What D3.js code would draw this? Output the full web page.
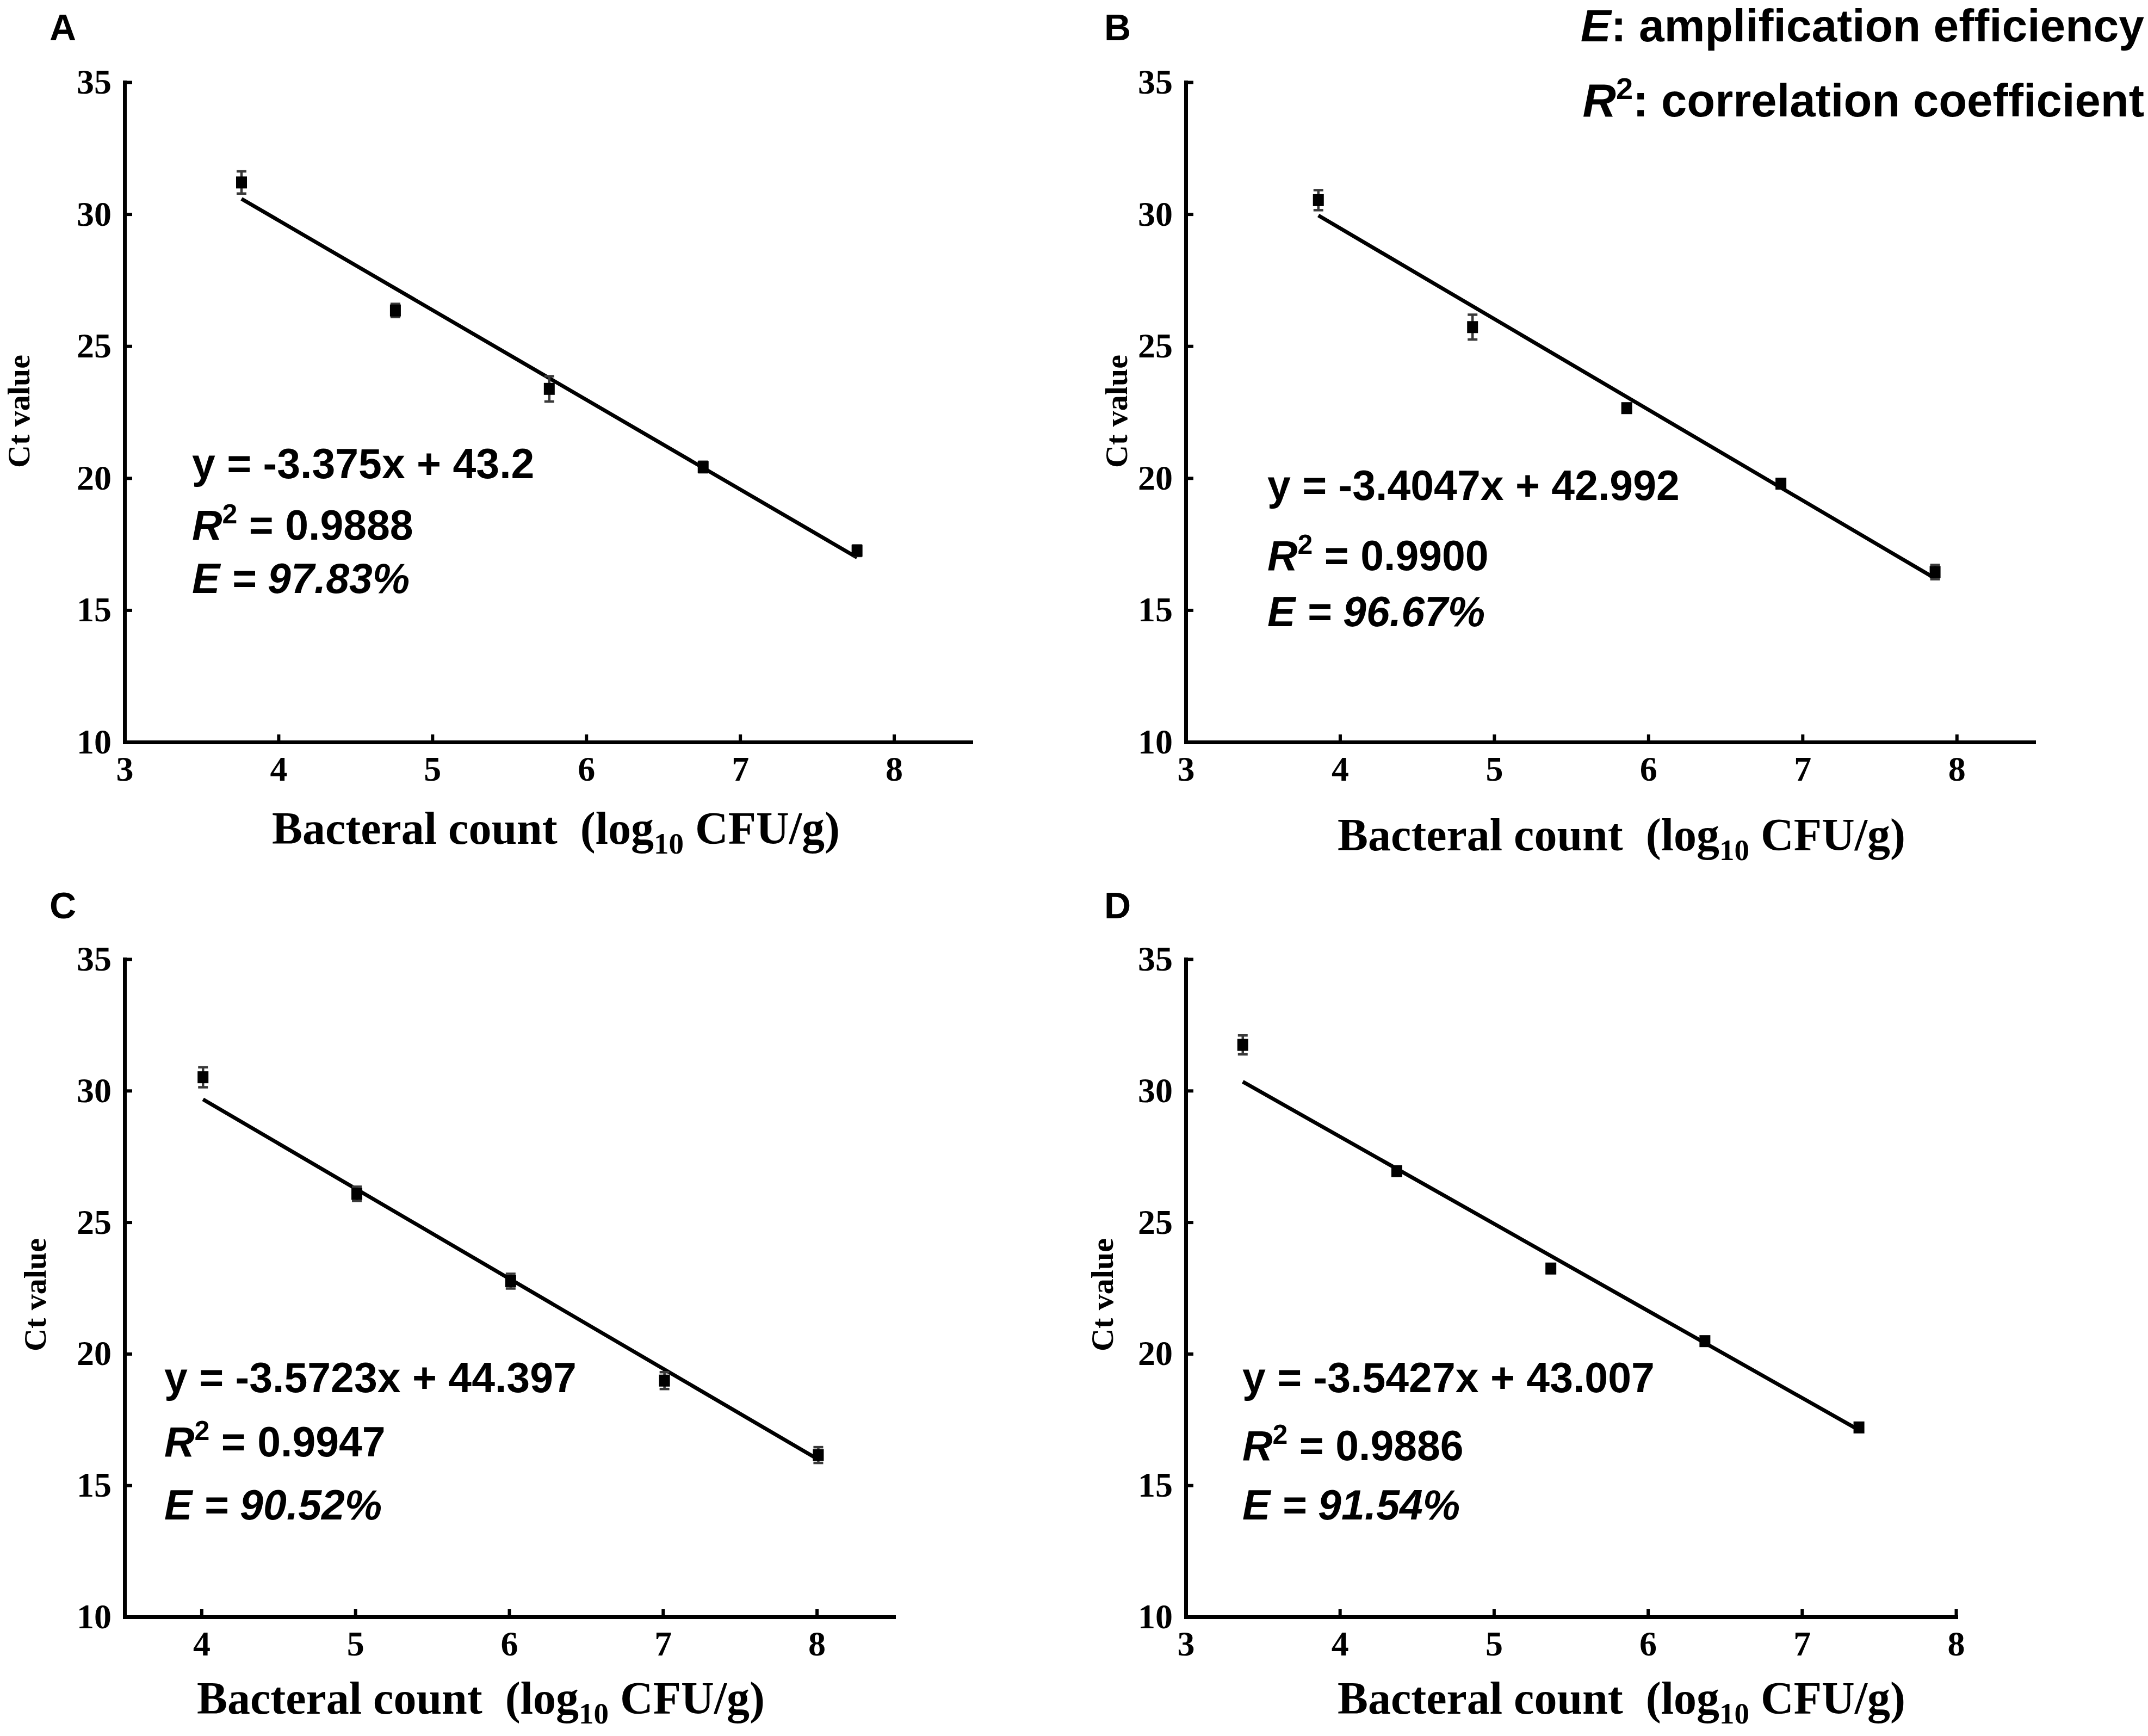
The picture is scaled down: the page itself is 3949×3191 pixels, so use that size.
<!DOCTYPE html>
<html>
<head>
<meta charset="utf-8">
<script src="https://cdn.jsdelivr.net/npm/d3@7"></script>
<style>
  body { margin: 0; background: #fff; }
  svg { display: block; }
  text { white-space: pre; }
</style>
</head>
<body>
<svg id="chart" width="3949" height="3191"></svg>
<script>
// values
var panelLetters = ["A", "B", "C", "D"];

var countA = [3.76, 4.76, 5.76, 6.76, 7.76];
var ctA    = [31.2, 26.35, 23.38, 20.42, 17.25];
var sdA    = [0.42, 0.25, 0.48, 0.2, 0.2];
var fitA   = [30.58, 16.99];

var countB = [3.86, 4.86, 5.86, 6.86, 7.86];
var ctB    = [30.53, 25.72, 22.65, 19.79, 16.44];
var sdB    = [0.38, 0.47, 0.12, 0.1, 0.27];
var fitB   = [29.95, 16.2];

var countC = [4.01, 5.01, 6.01, 7.01, 8.01];
var ctC    = [30.51, 26.08, 22.76, 18.98, 16.15];
var sdC    = [0.38, 0.27, 0.28, 0.32, 0.3];
var fitC   = [29.67, 15.98];

var countD = [3.37, 4.37, 5.37, 6.37, 7.37];
var ctD    = [31.74, 26.94, 23.24, 20.48, 17.2];
var sdD    = [0.36, 0.1, 0.17, 0.1, 0.15];
var fitD   = [30.34, 17.1];

var equations = ["y = -3.375x + 43.2", "y = -3.4047x + 42.992", "y = -3.5723x + 44.397", "y = -3.5427x + 43.007"];
var r2Values  = ["0.9888", "0.9900", "0.9947", "0.9886"];
var effValues = ["97.83%", "96.67%", "90.52%", "91.54%"];

var xTicksABD = [3, 4, 5, 6, 7, 8];
var xTicksC   = [4, 5, 6, 7, 8];
var yTicks    = [10, 15, 20, 25, 30, 35];
var yDomain   = [10, 35];

var counts = [countA, countB, countC, countD];
var cts    = [ctA, ctB, ctC, ctD];
var sds    = [sdA, sdB, sdC, sdD];
var fits   = [fitA, fitB, fitC, fitD];

// where each panel sits on the page
var layout = [
  { left: 229,  right: 1785, top: 151,  bottom: 1364, xDom: [3, 8.5],   ticks: xTicksABD,
    letter: [91, 74],     yTitle: [54, 756],    xTitle: [1022, 1551], eq: [353, 879, 992, 1090] },
  { left: 2180, right: 3739, top: 151,  bottom: 1364, xDom: [3, 8.5],   ticks: xTicksABD,
    letter: [2030, 74],   yTitle: [2072, 756],  xTitle: [2981, 1563], eq: [2330, 919, 1048, 1151] },
  { left: 229,  right: 1643, top: 1763, bottom: 2972, xDom: [3.5, 8.5], ticks: xTicksC,
    letter: [91, 1688],   yTitle: [84, 2380],   xTitle: [884, 3150],  eq: [302, 2559, 2677, 2793] },
  { left: 2180, right: 3596, top: 1763, bottom: 2972, xDom: [3, 8],     ticks: xTicksABD,
    letter: [2030, 1688], yTitle: [2046, 2380], xTitle: [2981, 3150], eq: [2284, 2559, 2684, 2793] }
];

var svg = d3.select("#chart");
var serif = "'Liberation Serif', 'Times New Roman', serif";
var sans = "'Liberation Sans', Arial, sans-serif";

layout.forEach(function(p, i) {
  var x = d3.scaleLinear().domain(p.xDom).range([p.left, p.right]);
  var y = d3.scaleLinear().domain(yDomain).range([p.bottom, p.top]);
  var g = svg.append("g");

  // axes, ticks pointing inward
  var xAxis = g.append("g")
    .attr("transform", "translate(0," + p.bottom + ")")
    .call(d3.axisBottom(x).tickValues(p.ticks).tickFormat(d3.format("d"))
      .tickSizeInner(-14).tickSizeOuter(0).tickPadding(26));
  var yAxis = g.append("g")
    .attr("transform", "translate(" + p.left + ",0)")
    .call(d3.axisLeft(y).tickValues(yTicks).tickFormat(d3.format("d"))
      .tickSizeInner(-14).tickSizeOuter(0).tickPadding(24));

  [xAxis, yAxis].forEach(function(a) {
    a.select(".domain").attr("stroke", "#000").attr("stroke-width", 7).attr("stroke-linecap", "square");
    a.selectAll(".tick line").attr("stroke", "#000").attr("stroke-width", 6);
    a.selectAll(".tick text").attr("fill", "#000")
      .style("font-family", serif).style("font-weight", "bold").style("font-size", "64px");
  });

  // trend line
  var xs = counts[i];
  g.append("line")
    .attr("x1", x(xs[0])).attr("y1", y(fits[i][0]))
    .attr("x2", x(xs[xs.length - 1])).attr("y2", y(fits[i][1]))
    .attr("stroke", "#000").attr("stroke-width", 7);

  var pts = xs.map(function(v, j) { return { x: v, ct: cts[i][j], sd: sds[i][j] }; });

  // error bars
  var eb = g.selectAll(".err").data(pts).enter().append("g").attr("class", "err")
    .attr("stroke", "#3a3a3a").attr("stroke-width", 4.5);
  eb.append("line")
    .attr("x1", function(d) { return x(d.x); }).attr("x2", function(d) { return x(d.x); })
    .attr("y1", function(d) { return y(d.ct + d.sd); }).attr("y2", function(d) { return y(d.ct - d.sd); });
  eb.append("line")
    .attr("x1", function(d) { return x(d.x) - 9; }).attr("x2", function(d) { return x(d.x) + 9; })
    .attr("y1", function(d) { return y(d.ct + d.sd); }).attr("y2", function(d) { return y(d.ct + d.sd); });
  eb.append("line")
    .attr("x1", function(d) { return x(d.x) - 9; }).attr("x2", function(d) { return x(d.x) + 9; })
    .attr("y1", function(d) { return y(d.ct - d.sd); }).attr("y2", function(d) { return y(d.ct - d.sd); });

  // markers
  g.selectAll(".pt").data(pts).enter().append("rect").attr("class", "pt")
    .attr("x", function(d) { return x(d.x) - 10; })
    .attr("y", function(d) { return y(d.ct) - 11; })
    .attr("width", 20).attr("height", 22)
    .attr("fill", "#000");

  // panel letter
  g.append("text").attr("x", p.letter[0]).attr("y", p.letter[1])
    .style("font-family", sans).style("font-weight", "bold").style("font-size", "68px")
    .text(panelLetters[i]);

  // y title
  g.append("text")
    .attr("transform", "translate(" + p.yTitle[0] + "," + p.yTitle[1] + ") rotate(-90)")
    .attr("text-anchor", "middle")
    .style("font-family", serif).style("font-weight", "bold").style("font-size", "58px")
    .text("Ct value");

  // x title
  var xt = g.append("text").attr("x", p.xTitle[0]).attr("y", p.xTitle[1])
    .attr("text-anchor", "middle")
    .style("font-family", serif).style("font-weight", "bold").style("font-size", "84px");
  xt.append("tspan").text("Bacteral count  (log");
  xt.append("tspan").attr("dy", 18).style("font-size", "55px").text("10");
  xt.append("tspan").attr("dy", -18).text(" CFU/g)");

  // equation block
  var eqFont = function(t) {
    return t.style("font-family", sans).style("font-weight", "bold").style("font-size", "77px");
  };
  eqFont(g.append("text").attr("x", p.eq[0]).attr("y", p.eq[1])).text(equations[i]);
  var r2 = eqFont(g.append("text").attr("x", p.eq[0]).attr("y", p.eq[2]));
  r2.append("tspan").style("font-style", "italic").text("R");
  r2.append("tspan").attr("dy", -30).style("font-size", "50px").text("2");
  r2.append("tspan").attr("dy", 30).text(" = " + r2Values[i]);
  eqFont(g.append("text").attr("x", p.eq[0]).attr("y", p.eq[3]))
    .style("font-style", "italic").text("E = " + effValues[i]);
});

// key in the top right corner
var key1 = svg.append("text").attr("x", 3942).attr("y", 76).attr("text-anchor", "end")
  .style("font-family", sans).style("font-weight", "bold").style("font-size", "84px");
key1.append("tspan").style("font-style", "italic").text("E");
key1.append("tspan").text(": amplification efficiency");

var key2 = svg.append("text").attr("x", 3942).attr("y", 214).attr("text-anchor", "end")
  .style("font-family", sans).style("font-weight", "bold").style("font-size", "85px");
key2.append("tspan").style("font-style", "italic").text("R");
key2.append("tspan").attr("dy", -32).style("font-size", "56px").text("2");
key2.append("tspan").attr("dy", 32).text(": correlation coefficient");
</script>
</body>
</html>
